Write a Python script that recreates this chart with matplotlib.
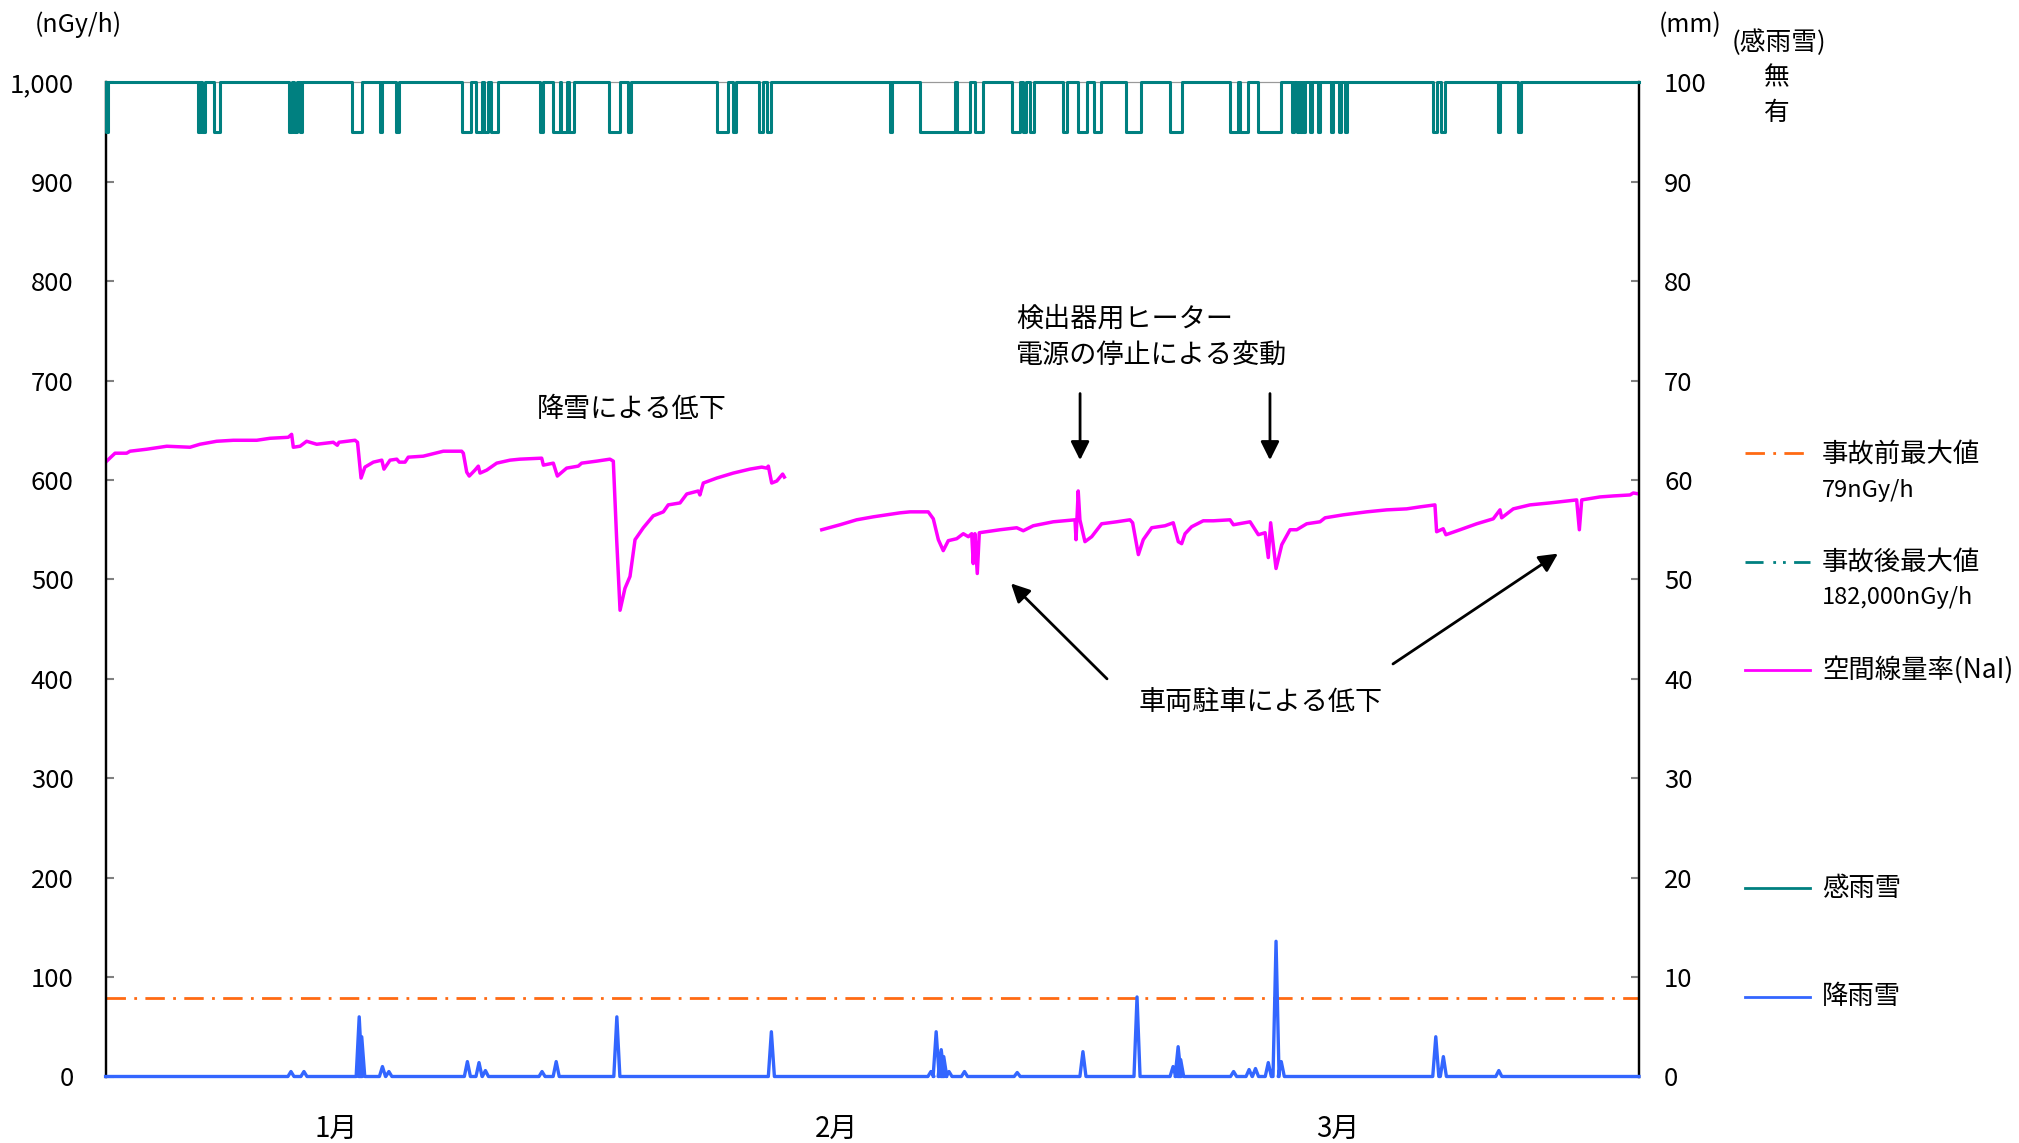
import matplotlib
matplotlib.use("Agg")
import matplotlib.pyplot as plt
from matplotlib.lines import Line2D

plt.rcParams["font.family"] = ["Noto Sans CJK JP", "DejaVu Sans"]
plt.rcParams["lines.scale_dashes"] = False

W, H = 2019, 1143

# 空間線量率(NaI) nGy/h  ― 日数(1月1日起点)と値、欠測の前後で2区間
nai_day_1 = [0.0, 0.56, 1.25, 1.45, 2.44, 3.63, 5.01, 5.60, 6.59, 7.58, 8.97, 9.76, 10.84,
             11.04, 11.14, 11.54, 11.93, 12.53, 13.51, 13.75, 13.85, 14.80, 14.95, 15.16,
             15.39, 15.89, 16.39, 16.52, 16.88, 17.28, 17.43, 17.77, 17.96, 18.85, 20.04,
             21.13, 21.23, 21.43, 21.58, 21.92, 22.12, 22.22, 22.62, 23.21, 24.00, 24.59,
             25.88, 25.98, 26.57, 26.81, 27.36, 28.05, 28.25, 29.14, 29.93, 30.13, 30.33,
             30.53, 30.82, 31.12, 31.42, 31.91, 32.50, 33.10, 33.39, 34.09, 34.49, 35.17,
             35.27, 35.47, 36.27, 37.25, 38.24, 38.94, 39.23, 39.33, 39.53, 39.83, 40.18,
             40.28]
nai_val_1 = [618, 627, 627, 629, 631, 634, 633, 636, 639, 640, 640, 642, 643,
             646, 633, 634, 639, 636, 638, 635, 638, 640, 638, 602,
             613, 618, 620, 611, 620, 621, 618, 618, 623, 624, 629,
             629, 627, 608, 604, 610, 614, 607, 610, 617, 620, 621,
             622, 615, 617, 604, 612, 614, 617, 619, 621, 619, 540,
             469, 491, 503, 540, 552, 564, 568, 575, 577, 586, 589,
             585, 597, 602, 607, 611, 613, 612, 614, 597, 599, 606,
             603]

nai_day_2 = [42.50, 43.58, 44.57, 45.56, 47.14, 47.74, 48.82, 49.12, 49.42, 49.71, 50.01,
             50.51, 50.90, 51.20, 51.40, 51.49, 51.59, 51.73, 51.85, 53.08, 54.07, 54.46,
             55.05, 56.24, 57.53, 57.59, 57.72, 57.82, 58.12, 58.52, 59.11, 60.00, 60.79,
             60.95, 61.29, 61.58, 62.08, 62.87, 63.36, 63.66, 63.86, 64.06, 64.45, 65.14,
             65.74, 66.73, 66.93, 67.92, 68.41, 68.81, 69.00, 69.14, 69.46, 69.80, 70.29,
             70.69, 71.28, 72.07, 72.37, 73.45, 74.84, 76.03, 77.21, 78.00, 78.89, 78.99,
             79.38, 79.54, 80.38, 81.37, 82.35, 82.75, 82.85, 83.54, 84.53, 85.72, 87.30,
             87.46, 87.60, 88.68, 89.47, 90.47, 90.66, 91.0]
nai_val_2 = [550, 555, 560, 563, 567, 568, 568, 561, 540, 529, 539,
             541, 546, 543, 546, 516, 546, 506, 547, 550, 552, 549,
             554, 558, 560, 540, 589, 560, 538, 543, 556, 558, 560,
             557, 525, 540, 552, 554, 557, 538, 536, 546, 553, 559,
             559, 560, 555, 558, 545, 547, 522, 557, 511, 535, 550,
             550, 556, 558, 562, 565, 568, 570, 571, 573, 575, 548,
             551, 545, 550, 556, 561, 570, 562, 571, 575, 577, 580,
             550, 580, 583, 584, 585, 587, 586]

# 感雨雪「有」の期間(開始日, 終了日)
wet_start = [0.00, 5.47, 5.70, 6.42, 10.91, 11.19, 11.53, 14.63, 16.27, 17.25, 21.13,
             21.99, 22.43, 22.87, 25.80, 26.55, 27.03, 27.51, 29.89, 31.01, 36.30,
             37.25, 38.78, 39.26, 46.54, 48.35, 50.53, 51.59, 53.79, 54.44, 54.86,
             56.80, 57.71, 58.65, 60.53, 63.19, 66.73, 67.34, 68.40, 70.40, 70.70,
             70.88, 71.06, 71.49, 71.97, 72.73, 73.18, 73.55, 78.75, 79.24, 82.63, 83.84]
wet_end = [0.15, 5.60, 5.88, 6.80, 11.09, 11.36, 11.67, 15.24, 16.43, 17.42, 21.71,
           22.33, 22.71, 23.28, 25.94, 26.96, 27.37, 27.78, 30.50, 31.19, 36.91,
           37.42, 39.02, 39.46, 46.69, 50.38, 51.30, 52.05, 54.27, 54.62, 55.08,
           57.04, 58.25, 59.07, 61.43, 63.86, 67.19, 67.80, 69.76, 70.52, 70.82,
           71.00, 71.18, 71.61, 72.09, 72.85, 73.30, 73.67, 78.99, 79.48, 82.78, 83.99]

# 降雨雪量(mm) のピーク
rain_day = [11.00, 11.77, 15.05, 15.20, 16.43, 16.81, 21.47, 22.16, 22.54, 25.90, 26.74,
            30.34, 39.51, 48.98, 49.29, 49.59, 49.74, 50.05, 50.97, 54.10, 58.00, 61.21,
            63.35, 63.65, 63.80, 66.94, 67.86, 68.24, 69.00, 69.46, 69.77, 78.94, 79.39,
            82.68]
rain_mm = [0.5, 0.5, 6.0, 4.0, 1.0, 0.5, 1.5, 1.4, 0.6, 0.5, 1.5,
           6.0, 4.5, 0.5, 4.5, 2.7, 2.0, 0.5, 0.5, 0.4, 2.5, 8.0,
           1.0, 3.0, 1.7, 0.5, 0.7, 0.8, 1.4, 13.6, 1.5, 4.0, 2.0,
           0.6]

pre_accident_max = 79  # nGy/h
month_pos = [13.7, 43.4, 73.1]
month_labels = ["1月", "2月", "3月"]
left_ticks = list(range(0, 1001, 100))
right_ticks = list(range(0, 101, 10))

ORANGE = "#FF6A13"
TEAL = "#008080"
MAGENTA = "#FF00FF"
BLUE = "#3366FF"


def fx(x):
    return x / W


def fy(y):
    return 1 - y / H


L, R, T, B = 105.6, 1639.0, 82.4, 1076.5
fig = plt.figure(figsize=(W / 100, H / 100), dpi=100)
ax = fig.add_axes([fx(L), fy(B), (R - L) / W, (B - T) / H])
ax2 = ax.twinx()

ax.set_xlim(0, 91)
ax.set_ylim(0, 1000)
ax2.set_ylim(0, 100)

# 線量率
ax.plot(nai_day_1, nai_val_1, color=MAGENTA, lw=2.5, zorder=3)
ax.plot(nai_day_2, nai_val_2, color=MAGENTA, lw=2.5, zorder=3)
ax.axhline(pre_accident_max, color=ORANGE, lw=2.0, dashes=(14, 6, 2, 6), zorder=2)

# 感雨雪: 無=100, 有=95 (右軸)
wx, wy = [0.0], [100]
for s, e in zip(wet_start, wet_end):
    wx += [s, s, e, e]
    wy += [100, 95, 95, 100]
wx.append(91.0)
wy.append(100)
ax2.plot(wx, wy, color=TEAL, lw=2.2, clip_on=False, zorder=3)

# 降雨雪
rx, ry = [0.0], [0.0]
for d, h in zip(rain_day, rain_mm):
    rx += [d - 0.18, d, d + 0.18]
    ry += [0.0, h, 0.0]
rx.append(91.0)
ry.append(0.0)
ax2.plot(rx, ry, color=BLUE, lw=2.4, clip_on=False, zorder=4)

# 軸の体裁
ax.set_yticks(left_ticks, [f"{v:,}" for v in left_ticks])
ax2.set_yticks(right_ticks, [str(v) for v in right_ticks])
ax.set_xticks(month_pos, month_labels)
ax.tick_params(axis="x", length=0, pad=27, labelsize=20)
ax.tick_params(axis="y", direction="in", length=6, width=1.5, color="#808080",
               labelsize=18.5, pad=23)
ax2.tick_params(axis="y", direction="in", length=6, width=1.5, color="#808080",
                labelsize=18.5, pad=18)
for a in (ax, ax2):
    a.spines["bottom"].set_visible(False)
    a.spines["top"].set_color("#999999")
    a.spines["left"].set_color("black")
    a.spines["right"].set_color("black")
    a.spines["left"].set_linewidth(1.6)
    a.spines["right"].set_linewidth(1.6)

# 注記
fs = 19.5
ax.text(31.24, 671, "降雪による低下", ha="center", va="center", fontsize=fs)
ax.text(54.03, 762, "検出器用ヒーター", ha="left", va="center", fontsize=fs)
ax.text(54.03, 726, "電源の停止による変動", ha="left", va="center", fontsize=fs)
ax.text(68.57, 376, "車両駐車による低下", ha="center", va="center", fontsize=fs)

arrow = dict(arrowstyle="-|>", color="black", lw=2, mutation_scale=28,
             shrinkA=0, shrinkB=0)
ax.annotate("", xy=(57.83, 620), xytext=(57.83, 687), arrowprops=arrow)
ax.annotate("", xy=(69.10, 620), xytext=(69.10, 687), arrowprops=arrow)
ax.annotate("", xy=(53.73, 496), xytext=(59.43, 400), arrowprops=arrow)
ax.annotate("", xy=(86.19, 526), xytext=(76.40, 415), arrowprops=arrow)

# 単位など
fig.text(fx(78), fy(25), "(nGy/h)", ha="center", va="center", fontsize=18)
fig.text(fx(1690), fy(25), "(mm)", ha="center", va="center", fontsize=18)
fig.text(fx(1779), fy(43), "(感雨雪)", ha="center", va="center", fontsize=18.5)
fig.text(fx(1777), fy(78), "無", ha="center", va="center", fontsize=18.5)
fig.text(fx(1777), fy(113), "有", ha="center", va="center", fontsize=18.5)

# 凡例
lx0, lx1, tx = 1745, 1810, 1822
fig.add_artist(Line2D([fx(lx0), fx(lx1)], [fy(453)] * 2, color=ORANGE, lw=2.0,
                      dashes=(14, 6, 2, 6)))
fig.text(fx(tx), fy(455), "事故前最大値", va="center", fontsize=19)
fig.text(fx(tx), fy(490), "79nGy/h", va="center", fontsize=17)
fig.add_artist(Line2D([fx(lx0), fx(lx1)], [fy(562)] * 2, color=TEAL, lw=2.0,
                      dashes=(13, 7, 2, 5, 2, 6)))
fig.text(fx(tx), fy(563), "事故後最大値", va="center", fontsize=19)
fig.text(fx(tx), fy(598), "182,000nGy/h", va="center", fontsize=17)
fig.add_artist(Line2D([fx(lx0), fx(lx1)], [fy(670)] * 2, color=MAGENTA, lw=2.0))
fig.text(fx(tx), fy(670), "空間線量率(NaI)", va="center", fontsize=19)
fig.add_artist(Line2D([fx(lx0), fx(lx1)], [fy(888)] * 2, color=TEAL, lw=2.0))
fig.text(fx(tx), fy(888), "感雨雪", va="center", fontsize=19)
fig.add_artist(Line2D([fx(lx0), fx(lx1)], [fy(997)] * 2, color=BLUE, lw=2.0))
fig.text(fx(tx), fy(997), "降雨雪", va="center", fontsize=19)

fig.savefig("out.png", dpi=100, facecolor="white")
